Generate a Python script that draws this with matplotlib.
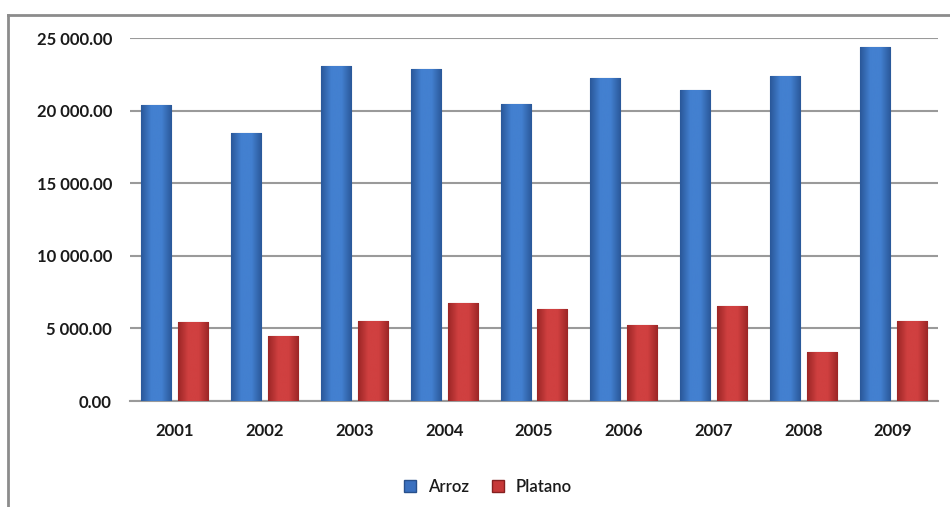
import numpy as np
import matplotlib.pyplot as plt
from matplotlib.lines import Line2D
from matplotlib.colors import LinearSegmentedColormap

years = ['2001', '2002', '2003', '2004', '2005', '2006', '2007', '2008', '2009']
arroz = [20400, 18480, 23090, 22870, 20460, 22270, 21420, 22380, 24400]
platano = [5450, 4470, 5510, 6780, 6340, 5230, 6550, 3390, 5510]

font0 = 'Lato'
grid_col = '#9a9a9a'


def fmt(v, pos=None):
    s = '{:,.2f}'.format(v)
    return s.replace(',', ' ')


def shade_bars(ax, bars, edge, mid):
    # horizontal gradient, dark at the edges, light in the middle
    cmap = LinearSegmentedColormap.from_list('g', [edge, mid, mid, edge])
    grad = np.linspace(0, 1, 64).reshape(1, -1)
    for b in bars:
        x0, y0 = b.get_x(), b.get_y()
        w, h = b.get_width(), b.get_height()
        im = ax.imshow(grad, cmap=cmap, aspect='auto', extent=(x0, x0 + w, y0, y0 + h),
                       zorder=3, interpolation='bicubic')
        im.set_clip_path(b)
        b.set_facecolor('none')


fig = plt.figure(figsize=(9.5, 5.07), dpi=100)
ax = fig.add_axes([0.1368, 0.209, 0.8506, 0.7155])

x = np.arange(len(years))
bw = 0.335
b1 = ax.bar(x - 0.205, arroz, bw, color='#3a70bf', edgecolor='#28508c', linewidth=0.8, zorder=3)
b2 = ax.bar(x + 0.205, platano, bw, color='#c63838', edgecolor='#862020', linewidth=0.8, zorder=3)
shade_bars(ax, b1, '#2a5899', '#4380d0')
shade_bars(ax, b2, '#9c2626', '#d04040')

ax.set_xlim(-0.5, len(years) - 0.5)
ax.set_ylim(0, 25000)
ax.set_yticks(np.arange(0, 25001, 5000))
ax.yaxis.set_major_formatter(plt.FuncFormatter(fmt))
ax.set_xticks(x)
ax.set_xticklabels(years)

ax.grid(True, axis='y', color=grid_col, linewidth=1.5, zorder=0)
ax.set_axisbelow(True)
for sp in ['top', 'right', 'left']:
    ax.spines[sp].set_visible(False)
ax.spines['bottom'].set_color(grid_col)
ax.spines['bottom'].set_linewidth(1.5)
ax.tick_params(axis='y', length=0, pad=13, labelsize=12)
ax.tick_params(axis='x', length=0, pad=16, labelsize=12)
for lab in ax.get_xticklabels() + ax.get_yticklabels():
    lab.set_fontfamily(font0)
    lab.set_fontweight('bold')
    lab.set_color('#1a1a1a')

h1 = Line2D([], [], marker='s', linestyle='none', markersize=8,
            markerfacecolor='#3a70bf', markeredgecolor='#28508c')
h2 = Line2D([], [], marker='s', linestyle='none', markersize=8,
            markerfacecolor='#c63838', markeredgecolor='#862020')
leg = fig.legend([h1, h2], ['Arroz', 'Platano'], loc='center', bbox_to_anchor=(0.508, 0.040),
                 ncol=2, frameon=False, handletextpad=0.1, columnspacing=0.7,
                 prop={'family': font0, 'size': 12, 'weight': 'semibold'})
for t in leg.get_texts():
    t.set_color('#1a1a1a')

# outer chart frame (cut off at the right and bottom)
fig.add_artist(Line2D([0.0084, 0.0084], [0, 0.970], transform=fig.transFigure,
                      color='#8c8c8c', linewidth=2))
fig.add_artist(Line2D([0.0084, 1.0], [0.970, 0.970], transform=fig.transFigure,
                      color='#8c8c8c', linewidth=2))

fig.savefig('out.png', dpi=100)
